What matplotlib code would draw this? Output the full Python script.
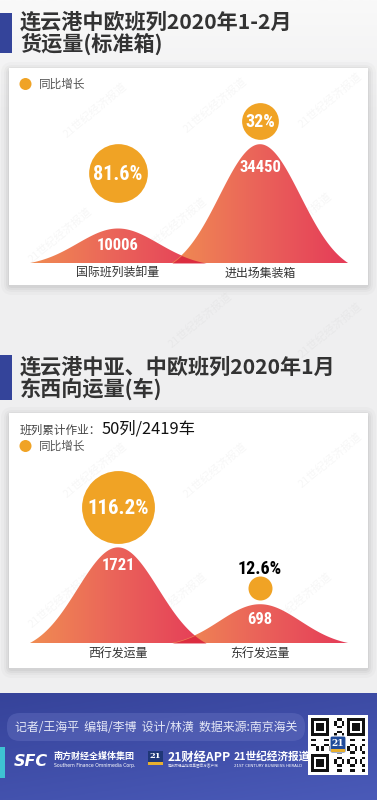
import numpy as np
import matplotlib
matplotlib.use('Agg')
import matplotlib.pyplot as plt
from matplotlib import font_manager as fm
from matplotlib.patches import FancyBboxPatch, Rectangle, Polygon, Circle
from matplotlib.colors import LinearSegmentedColormap
from matplotlib.transforms import ScaledTranslation

plt.rcParams['font.family'] = ['Noto Sans CJK SC', 'DejaVu Sans']

# ---------------- data ----------------
title1 = ['连云港中欧班列2020年1-2月', '货运量(标准箱)']
cats1 = ['国际班列装卸量', '进出场集装箱']
vals1 = [10006, 34450]
growth1 = [81.6, 32.0]

title2 = ['连云港中亚、中欧班列2020年1月', '东西向运量(车)']
cats2 = ['西行发运量', '东行发运量']
vals2 = [1721, 698]
growth2 = [116.2, 12.6]

summary_label = '班列累计作业：'
summary_value = '50列/2419车'
legend_label = '同比增长'
credits = '记者/王海平  编辑/李博  设计/林潢  数据来源:南京海关'


# ---------------- fonts ----------------
def _wt(w):
    if isinstance(w, str):
        return {'bold': 700, 'heavy': 800, 'black': 900, 'demibold': 600,
                'semibold': 600, 'extra bold': 800}.get(w.lower(), 400)
    return int(w)


def find_condensed_bold():
    best = None
    for f in fm.fontManager.ttflist:
        n, p = f.name.lower(), f.fname.lower()
        cond = ('condensed' in n or 'narrow' in n or 'condensed' in p or 'narrow' in p
                or str(f.stretch) in ('condensed', 'semi-condensed', 'extra-condensed'))
        if not cond or 'italic' in p or 'oblique' in p or f.style != 'normal':
            continue
        w = _wt(f.weight)
        if 'bold' in p and w < 700:
            w = 700
        if w < 600:
            continue
        rank = 0 if 'liberation' in p else 1 if 'roboto' in p else 2 if 'dejavu' in p else 3
        if best is None or rank < best[0]:
            best = (rank, f.fname)
    return best[1] if best else None


_cond = find_condensed_bold()


def numfont(size):
    if _cond:
        return fm.FontProperties(fname=_cond, size=size)
    return fm.FontProperties(family=['Liberation Sans', 'DejaVu Sans'], weight='bold',
                             size=size * 0.9)


# ---------------- styles ----------------
W, H = 377, 800
CIRCLE_C = '#f0a325'
TEXT_C = '#333333'
cmap = LinearSegmentedColormap.from_list('mount', ['#f08c52', '#ea625a', '#e53b58'])

fig = plt.figure(figsize=(W / 100, H / 100), dpi=100)
fig.patch.set_facecolor('#efeff0')
bg = fig.add_axes([0, 0, 1, 1])
bg.set_xlim(0, W)
bg.set_ylim(H, 0)
bg.axis('off')

# light top fade
top_fade = np.linspace(0, 1, 100).reshape(-1, 1)
bg.imshow(top_fade, cmap=LinearSegmentedColormap.from_list('tf', ['#f9f9f9', '#efeff0']),
          extent=(0, W, 120, 0), origin='upper', aspect='auto', zorder=0)


def card(x0, y0, x1, y1):
    for pad, a in [(9, 0.02), (6, 0.025), (4, 0.03), (2, 0.04)]:
        bg.add_patch(FancyBboxPatch((x0 - pad + 1, y0 - pad + 3), x1 - x0 + 2 * pad - 2,
                                    y1 - y0 + 2 * pad - 2,
                                    boxstyle='round,pad=0,rounding_size=%d' % (pad + 2),
                                    fc='#000000', ec='none', alpha=a, zorder=1))
    bg.add_patch(Rectangle((x0, y0), x1 - x0, y1 - y0, fc='white', ec='none', zorder=2))


def title(y_top, lines, o1, o2, bar_h):
    bg.add_patch(Rectangle((0, y_top), 12, bar_h, fc='#34449a', ec='none', zorder=2))
    bg.text(20, y_top + o1, lines[0], fontsize=15.2, color=TEXT_C, va='center', ha='left',
            fontweight='bold', zorder=3)
    bg.text(20, y_top + o2, lines[1], fontsize=15.2, color=TEXT_C, va='center', ha='left',
            fontweight='bold', zorder=3)


def legend(y):
    bg.add_patch(Circle((25.5, y), 6, fc=CIRCLE_C, ec='none', zorder=3))
    bg.text(39, y, legend_label, fontsize=8.4, color='#555555', va='center', ha='left', zorder=3)


# ---------- section 1 ----------
title(13, title1, 9.5, 30.5, 40)
card(9, 68, 368, 285)
legend(84)

# ---------- section 2 ----------
title(355, title2, 12, 34, 45)
card(9, 413, 368, 668)
bg.text(20, 430, summary_label, fontsize=8.4, color='#444444', va='center', ha='left', zorder=3)
bg.text(102, 429, summary_value, fontsize=11.8, color='#111111', va='center', ha='left',
        fontweight='medium', zorder=3)
legend(446)

# watermarks
for (wx, wy) in [(95, 110), (215, 105), (330, 100), (60, 235), (175, 225), (300, 220),
                 (95, 470), (215, 470), (330, 460), (60, 600), (175, 600), (300, 600),
                 (200, 320), (330, 330)]:
    bg.text(wx, wy, '21世纪经济报道', fontsize=8, color='#888888', alpha=0.07,
            rotation=40, ha='center', va='center', zorder=4)

# ---------- mountain charts ----------
SIG, HALF, PX_PER_CAT = 0.285, 0.62, 142.0


def chart(base_px, top_px, units_per_px, cats, vals, growth, rk, gaps, cfs, voffs):
    left_px, right_px, c0 = 9, 368, 118
    ax = fig.add_axes([left_px / W, 1 - base_px / H, (right_px - left_px) / W,
                       (base_px - top_px) / H])
    ax.axis('off')
    ax.patch.set_alpha(0)
    xs = np.arange(len(cats))
    t = np.linspace(-HALF, HALF, 301)
    g = np.exp(-0.5 * (t / SIG) ** 2)
    ge = np.exp(-0.5 * (HALF / SIG) ** 2)
    shape = (g - ge) / (1 - ge)
    grad = np.linspace(0, 1, 256).reshape(1, -1)
    for x, v in zip(xs, vals):
        poly = Polygon(np.column_stack([x + t, v * shape]), closed=True, fc='none', ec='none')
        ax.add_patch(poly)
        im = ax.imshow(grad, cmap=cmap, extent=[x - HALF, x + HALF, 0, v], aspect='auto',
                       origin='lower', zorder=2)
        im.set_clip_path(poly)
    # darker overlap where neighbouring mountains meet
    for k in range(len(xs) - 1):
        xa, xb = xs[k], xs[k + 1]
        xo = np.linspace(xb - HALF, xa + HALF, 120)

        def prof(xc, v):
            d = (xo - xc) / SIG
            return np.clip((np.exp(-0.5 * d ** 2) - ge) / (1 - ge), 0, None) * v
        ov = np.minimum(prof(xa, vals[k]), prof(xb, vals[k + 1]))
        ax.fill_between(xo, 0, ov, color='#d91e3c', alpha=0.85, lw=0, zorder=2.5)
    for i, (x, v, gr, cat) in enumerate(zip(xs, vals, growth, cats)):
        r = rk * np.sqrt(gr)
        dy = gaps[i] + r
        off = ScaledTranslation(0, dy / 100, fig.dpi_scale_trans)
        ax.scatter([x], [v], s=(2 * r * 0.72) ** 2, c=CIRCLE_C, linewidths=0,
                   transform=ax.transData + off, zorder=3, clip_on=False)
        label = f'{gr:g}%'
        if r > 16:
            ax.annotate(label, (x, v), xytext=(0, dy * 0.72 - 1.0), textcoords='offset points',
                        ha='center', va='center', color='white', fontproperties=numfont(cfs[i]),
                        zorder=4, annotation_clip=False)
        else:
            ax.annotate(label, (x, v), xytext=(0, (dy + 19) * 0.72), textcoords='offset points',
                        ha='center', va='center', color='black', fontproperties=numfont(cfs[i]),
                        zorder=4, annotation_clip=False)
        ax.annotate(f'{v}', (x, v), xytext=(0, -voffs[i] * 0.72), textcoords='offset points',
                    ha='center', va='center', color='white', fontproperties=numfont(12),
                    zorder=4, annotation_clip=False)
        ax.annotate(cat, (x, 0), xytext=(0, -10.5 * 0.72), textcoords='offset points',
                    ha='center', va='center', color=TEXT_C, fontsize=8.6, zorder=4,
                    annotation_clip=False)
    ax.set_xlim(-(c0 - left_px) / PX_PER_CAT, (right_px - c0) / PX_PER_CAT)
    ax.set_ylim(0, (base_px - top_px) * units_per_px)
    return ax


chart(263, 95, 290.0, cats1, vals1, growth1, 3.25, [26, 5], [14.5, 13], [17, 23])
chart(643, 460, 18.0, cats2, vals2, growth2, 3.38, [4, 4], [15, 13], [18, 15])

# ---------- footer ----------
fy0 = 693
yy, xx = np.mgrid[0:1:60j, 0:1:120j]
fg = 0.65 * yy + 0.35 * xx
fcmap = LinearSegmentedColormap.from_list('foot', ['#36439a', '#4a5ab8'])
bg.imshow(fg, cmap=fcmap, extent=(0, W, H, fy0), origin='upper', aspect='auto', zorder=1)
bg.add_patch(FancyBboxPatch((7, 713), 298, 28, boxstyle='round,pad=0,rounding_size=13',
                            fc='#6470c0', ec='none', alpha=0.45, zorder=2))
bg.text(15, 727.5, credits, fontsize=8.6, color='#e4e7f6', va='center', ha='left', zorder=3)
bg.add_patch(Rectangle((0, 747), 5, 31, fc='#3ec3d3', ec='none', zorder=2))

# logos
bg.text(14, 761, 'SFC', fontsize=11.5, color='white', fontweight='heavy', style='italic',
        family=['DejaVu Sans'], va='center', ha='left', zorder=3)
bg.text(54, 756.5, '南方财经全媒体集团', fontsize=6.5, color='white', fontweight='bold',
        va='center', ha='left', zorder=3)
bg.text(54, 766, 'Southern Finance Omnimedia Corp.', fontsize=3.3, color='white',
        va='center', ha='left', zorder=3, family=['DejaVu Sans'])
bg.add_patch(Rectangle((148, 751), 15, 14, fc='#1f3777', ec='none', zorder=3))
bg.add_patch(Rectangle((148, 762), 15, 3, fc='#e8b030', ec='none', zorder=3))
bg.text(155.5, 756.5, '21', fontsize=6, color='white', fontweight='bold',
        family=['DejaVu Serif'], va='center', ha='center', zorder=4)
bg.text(168, 757, '21财经APP', fontsize=8.8, color='white', fontweight='bold',
        va='center', ha='left', zorder=3)
bg.text(168, 766, '南方财经全媒体集团官方客户端', fontsize=2.6, color='#dde', va='center',
        ha='left', zorder=3)
bg.text(234, 756.5, '21世纪经济报道', fontsize=7.7, color='white', fontweight='bold',
        va='center', ha='left', zorder=3)
bg.text(234, 766, '21ST CENTURY BUSINESS HERALD', fontsize=2.9, color='white',
        va='center', ha='left', zorder=3, family=['DejaVu Sans'])

# QR code block (decorative)
bg.add_patch(Rectangle((308, 715), 60, 60, fc='white', ec='none', zorder=3))
n = 21
cell = 54.0 / n
qx0, qy0 = 311, 718
ii, jj = np.mgrid[0:n, 0:n]
mods = ((ii * 7 + jj * 11 + ii * jj) % 5) < 2
for (fi, fj) in [(0, 0), (0, n - 7), (n - 7, 0)]:
    mods[max(fi - 1, 0):fi + 8, max(fj - 1, 0):fj + 8] = False
    mods[fi:fi + 7, fj:fj + 7] = True
    mods[fi + 1:fi + 6, fj + 1:fj + 6] = False
    mods[fi + 2:fi + 5, fj + 2:fj + 5] = True
for i in range(n):
    for j in range(n):
        if mods[i, j]:
            bg.add_patch(Rectangle((qx0 + j * cell, qy0 + i * cell), cell, cell, fc='#111111',
                                   ec='none', zorder=4))
bg.add_patch(FancyBboxPatch((331, 737), 14, 15, boxstyle='round,pad=1,rounding_size=2',
                            fc='#1f4a9a', ec='white', lw=0.8, zorder=5))
bg.add_patch(Rectangle((331, 749), 14, 3, fc='#e8b030', ec='none', zorder=6))
bg.text(338, 743, '21', fontsize=6.5, color='white', fontweight='bold',
        family=['DejaVu Serif'], va='center', ha='center', zorder=6)

bg.set_xlim(0, W)
bg.set_ylim(H, 0)
fig.savefig('out.png', dpi=100, facecolor=fig.get_facecolor())
